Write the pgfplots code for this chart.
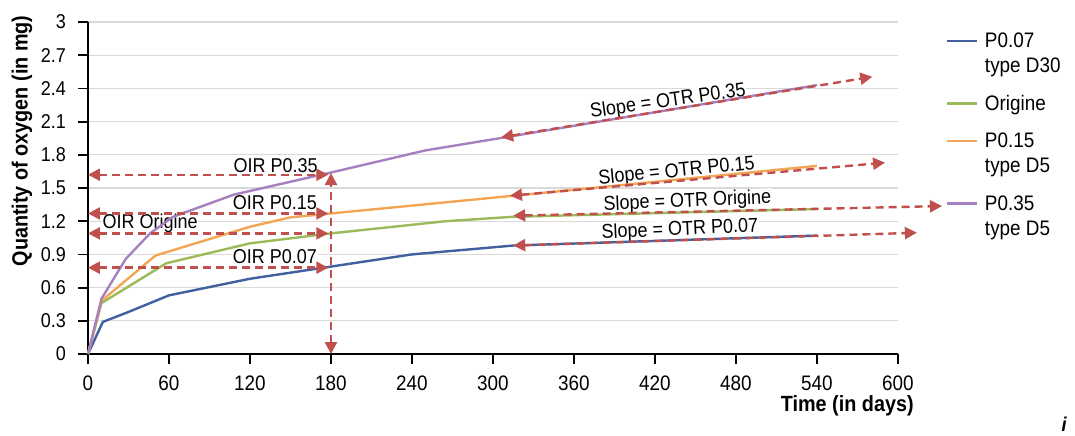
\documentclass[border=0pt]{standalone}
\usepackage{fontspec}
\setmainfont{Liberation Sans}[FakeStretch=0.9]
\usepackage{pgfplots}
\pgfplotsset{compat=1.18}
\usetikzlibrary{arrows.meta,calc}

\definecolor{cBlue}{RGB}{65,96,160}
\definecolor{cGreen}{RGB}{155,187,89}
\definecolor{cOrange}{RGB}{242,166,84}
\definecolor{cPurple}{RGB}{166,128,192}
\definecolor{cRed}{RGB}{192,80,77}
\definecolor{cGrid}{RGB}{217,217,217}

\tikzset{
  oir/.style={cRed, line width=1.2pt, dash pattern=on 4pt off 2.5pt,
    {Triangle[length=6pt,width=6pt]}-{Triangle[length=6pt,width=6pt]}},
  lab/.style={font=\fontsize{10}{12}\selectfont, fill=white, inner sep=0.3pt},
}

\begin{document}
\begin{tikzpicture}
\begin{axis}[
  name=ax,
  scale only axis,
  width=405pt, height=166pt,
  xmin=0, xmax=600, ymin=0, ymax=3,
  xtick={0,60,...,600},
  ytick={0,0.3,0.6,0.9,1.2,1.5,1.8,2.1,2.4,2.7,3},
  yticklabels={0,0.3,0.6,0.9,1.2,1.5,1.8,2.1,2.4,2.7,3},
  axis lines=left,
  axis line style={-, line width=1pt, black},
  tick align=outside,
  major tick length=5pt,
  tick style={black, line width=0.9pt},
  ymajorgrids,
  grid style={cGrid, line width=0.6pt},
  clip=false,
  /pgf/number format/assume math mode=true,
  x tick label style={font=\fontsize{10.5}{12}\selectfont, yshift=-2.5pt},
  y tick label style={font=\fontsize{10}{11}\selectfont, xshift=-2.5pt},
  xlabel={\textbf{Time (in days)}},
  xlabel style={font=\fontsize{11}{13}\selectfont, at={(axis description cs:1.0198,-0.1566)}, anchor=east, inner sep=0pt},
  ylabel={\textbf{Quantity of oxygen (in mg)}},
  ylabel style={font=\fontsize{11}{13}\selectfont, at={(axis description cs:-0.0815,0.6416)}, anchor=center, inner sep=0pt},
  legend style={at={(rel axis cs:1,1)}, anchor=north west, xshift=23.5pt, yshift=-4pt,
    draw=none, fill=none, inner sep=0pt, row sep=0pt, column sep=3.5pt,
    font=\fontsize{10.5}{12.5}\selectfont, cells={anchor=base west},
    nodes={inner sep=0pt, text height=8.75pt, text depth=3.75pt}},
  legend image code/.code={\draw[#1, line width=1.3pt] (0pt,3.5pt) -- (15pt,3.5pt);},
]
% labels first so curves stay on top of their white boxes
\node[lab] at (axis cs:139,1.70) {OIR P0.35};
\node[lab] at (axis cs:138.5,1.364) {OIR P0.15};
\node[lab] at (axis cs:46,1.18) {OIR Origine};
\node[lab] at (axis cs:138.5,0.88) {OIR P0.07};
\node[lab, rotate=8] at (axis cs:429.6,2.28) {Slope = OTR P0.35};
\node[lab, rotate=5.5] at (axis cs:436,1.647) {Slope = OTR P0.15};
\node[lab, rotate=2.5] at (axis cs:444,1.376) {Slope = OTR Origine};
\node[lab, rotate=2.5] at (axis cs:438.5,1.12) {Slope = OTR P0.07};

\addplot[cBlue, line width=1.2pt] coordinates {
  (0,0) (11,0.29) (30,0.38) (60,0.53) (120,0.68) (180,0.79) (240,0.90) (315,0.98) (540,1.07)};
\addlegendentry{P0.07}
\addlegendimage{empty legend}
\addlegendentry[text depth=10pt]{type D30}
\addplot[cGreen, line width=1.2pt] coordinates {
  (0,0) (10,0.46) (58,0.82) (120,1.0) (180,1.09) (265,1.20) (315,1.24) (540,1.31)};
\addlegendentry[text depth=10pt]{Origine}
\addplot[cOrange, line width=1.2pt] coordinates {
  (0,0) (10,0.48) (50,0.89) (120,1.15) (150,1.235) (180,1.27) (315,1.43) (540,1.70)};
\addlegendentry{P0.15}
\addlegendimage{empty legend}
\addlegendentry[text depth=10pt]{type D5}
\addplot[cPurple, line width=1.2pt] coordinates {
  (0,0) (10,0.50) (28,0.86) (46,1.09) (63,1.24) (108,1.44) (180,1.64) (250,1.84) (310,1.96) (540,2.43)};
\addlegendentry{P0.35}
\addlegendimage{empty legend}
\addlegendentry{type D5}

% OIR arrows
\addplot[oir, forget plot] coordinates {(0,1.62) (178,1.62)};
\addplot[oir, forget plot] coordinates {(0,1.27) (178,1.27)};
\addplot[oir, forget plot] coordinates {(0,1.09) (178,1.09)};
\addplot[oir, forget plot] coordinates {(0,0.78) (178,0.78)};
\addplot[oir, forget plot] coordinates {(180,0) (180,1.635)};
% slope arrows
\addplot[oir, forget plot] coordinates {(306,1.958) (581,2.505)};
\addplot[oir, forget plot] coordinates {(312.6,1.43) (590.4,1.729)};
\addplot[oir, forget plot] coordinates {(315,1.25) (632.6,1.337)};
\addplot[oir, forget plot] coordinates {(315,0.98) (614,1.096)};

\coordinate (bl) at (rel axis cs:0,0);
\end{axis}
\node[font=\fontsize{10}{11}\selectfont\bfseries\itshape, inner sep=0pt] at ($(bl)+(488pt,-35pt)$) {i};
\pgfresetboundingbox
\path[use as bounding box] ($(bl)+(-44pt,-40.5pt)$) rectangle ($(bl)+(493.5pt,177pt)$);
\end{tikzpicture}
\end{document}
